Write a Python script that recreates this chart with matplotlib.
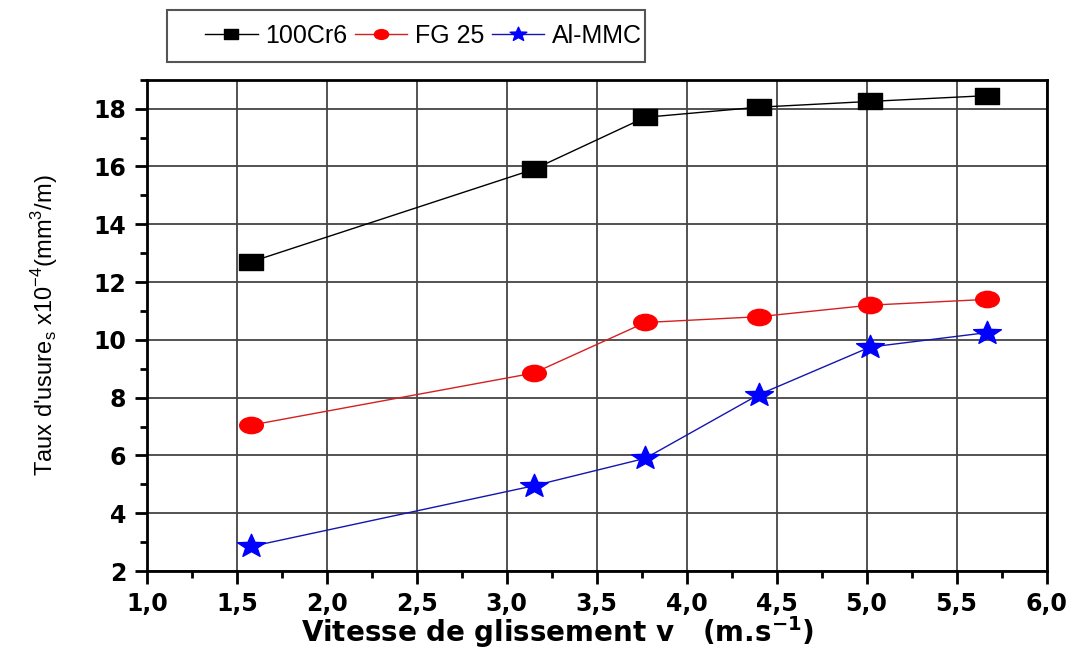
import numpy as np
import matplotlib.pyplot as plt
from matplotlib import font_manager
from matplotlib.path import Path
from matplotlib.transforms import Affine2D
from matplotlib.patches import Rectangle
from matplotlib.ticker import MultipleLocator

plt.rcParams['font.family'] = ['Liberation Sans', 'DejaVu Sans']
plt.rcParams['mathtext.fontset'] = 'custom'
plt.rcParams['mathtext.rm'] = 'Liberation Sans'
plt.rcParams['mathtext.bf'] = 'DejaVu Sans:bold'

vitesse = [1.58, 3.15, 3.77, 4.40, 5.02, 5.67]
acier_100cr6 = [12.7, 15.9, 17.7, 18.05, 18.25, 18.45]
fonte_fg25 = [7.05, 8.85, 10.6, 10.8, 11.2, 11.4]
al_mmc = [2.85, 4.95, 5.9, 8.1, 9.75, 10.25]

# narrow font for the y label if present
noms = {f.name for f in font_manager.fontManager.ttflist}
narrow = 'Liberation Sans Narrow' if 'Liberation Sans Narrow' in noms else 'Liberation Sans'

# markers are a bit wider than tall
etire = Affine2D().scale(1.45, 1.0)
m_carre = etire.transform_path(Path.unit_rectangle().transformed(Affine2D().translate(-0.5, -0.5)))
m_rond = etire.transform_path(Path.unit_circle())
m_etoile = Affine2D().scale(1.2, 1.0).transform_path(Path.unit_regular_star(5, 0.42))

fig = plt.figure(figsize=(10.8, 6.59), dpi=100)
ax = fig.add_axes([0.136, 0.1335, 0.833, 0.7455])

ax.plot(vitesse, acier_100cr6, color='black', lw=1.0, marker=m_carre, ms=17,
        label='100Cr6')
ax.plot(vitesse, fonte_fg25, color='#d42020', lw=1.0, marker=m_rond, ms=17,
        mfc='#ff0000', mec='#ff0000', label='FG 25')
ax.plot(vitesse, al_mmc, color='#1515b0', lw=1.0, marker=m_etoile, ms=20,
        mfc='#0000ff', mec='#0000ff', label='Al-MMC')

ax.set_xlim(1.0, 6.0)
ax.set_ylim(2, 19)
ax.xaxis.set_major_locator(MultipleLocator(0.5))
ax.xaxis.set_minor_locator(MultipleLocator(0.25))
ax.yaxis.set_minor_locator(MultipleLocator(1))
ax.set_yticks(np.arange(2, 19, 2))
ax.xaxis.set_major_formatter(lambda v, p: f'{v:.1f}'.replace('.', ','))

ax.grid(True, which='major', color='#444444', lw=1.3)
ax.set_axisbelow(True)
for s in ax.spines.values():
    s.set_linewidth(2)
ax.tick_params(which='major', direction='out', length=9, width=2, pad=6,
               labelsize=17)
ax.tick_params(which='minor', direction='out', length=5, width=2)
for lab in ax.get_xticklabels() + ax.get_yticklabels():
    lab.set_fontfamily('DejaVu Sans')
    lab.set_fontweight('bold')

ax.set_xlabel(r"Vitesse de glissement v   (m.s$^{\mathbf{-1}}$)",
              fontsize=20, fontweight='bold', family='DejaVu Sans')
ax.xaxis.set_label_coords(0.456, -0.088)
ax.set_ylabel(r"Taux d'usure$_{\mathrm{s}}$ x10$^{\mathrm{-4}}$(mm$^{\mathrm{3}}$/m)",
              fontsize=17 if narrow == 'Liberation Sans' else 19,
              family=narrow, labelpad=24)

# legend box above the plot
fig.patches.append(Rectangle((167 / 1080, 1 - 62 / 659), 478 / 1080, 52 / 659,
                             transform=fig.transFigure, fill=False,
                             edgecolor='#555555', lw=1.5))
leg = fig.legend(loc='center left', bbox_to_anchor=(205 / 1080, 1 - 36 / 659),
                 ncol=3, fontsize=18, frameon=False, markerscale=0.6,
                 handlelength=2.1, handletextpad=0.3, columnspacing=0.3,
                 borderpad=0, borderaxespad=0)

fig.savefig('out.png', dpi=100)
